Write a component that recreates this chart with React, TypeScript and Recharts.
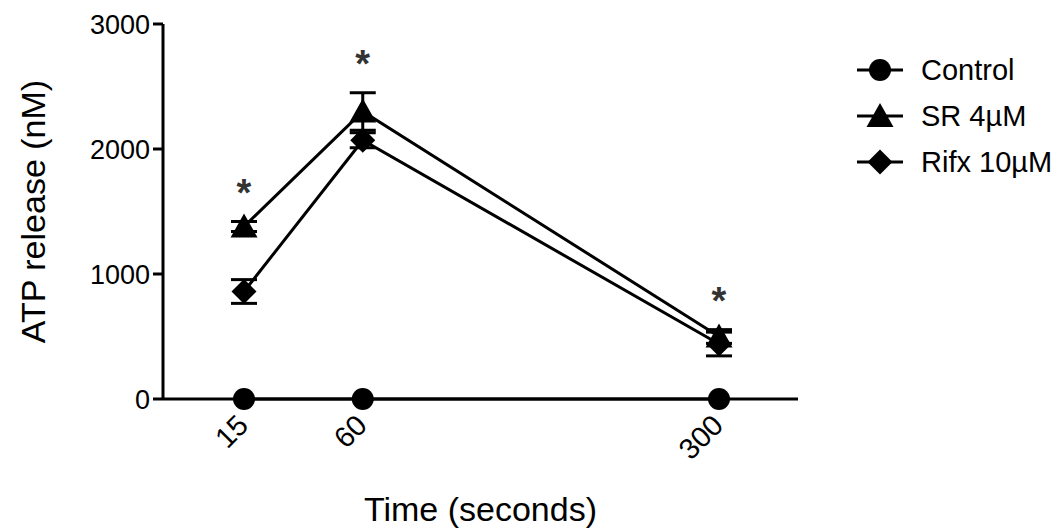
import React from 'react'
import { LineChart, Line, XAxis, YAxis, ErrorBar, LabelList, Label } from 'recharts'

const FONT = '"Liberation Sans", Arial, Helvetica, sans-serif'

const times = [15, 60, 300]
// position of each time point along the original x axis (15 and 60 one step apart, 300 three steps on)
const slots = [1, 2, 5]
const control = [0, 0, 0]
const sr = [1380, 2300, 500]
const srErr = [40, 150, 55]
const rifx = [860, 2070, 440]
const rifxErr = [95, 60, 95]
const significant = ['*', '*', '*']
const yTicks = [0, 1000, 2000, 3000]

const series = [
  { key: 'control', name: 'Control', shape: 'circle' },
  { key: 'sr', name: 'SR 4µM', shape: 'triangle' },
  { key: 'rifx', name: 'Rifx 10µM', shape: 'diamond' },
]

const data = times.map((t, i) => ({
  time: t,
  slot: slots[i],
  control: control[i],
  sr: sr[i],
  srErr: srErr[i],
  rifx: rifx[i],
  rifxErr: rifxErr[i],
  star: sr[i] + srErr[i],
  sig: significant[i],
}))

function Marker({ shape, cx, cy }: { shape: string; cx: number; cy: number }) {
  if (shape === 'circle') return <circle cx={cx} cy={cy} r={11} fill="#000" />
  if (shape === 'triangle')
    return <polygon points={`${cx},${cy - 13} ${cx + 13.5},${cy + 11} ${cx - 13.5},${cy + 11}`} fill="#000" />
  return <polygon points={`${cx},${cy - 12.5} ${cx + 12.5},${cy} ${cx},${cy + 12.5} ${cx - 12.5},${cy}`} fill="#000" />
}

const dotFor = (shape: string) => (p: any) =>
  <Marker key={`${shape}-${p.index}`} shape={shape} cx={p.cx} cy={p.cy} />

const XTick = (props: any) => {
  const { x, y, payload } = props
  const idx = slots.indexOf(payload.value)
  return (
    <text
      transform={`translate(${x + 6},${y + 28}) rotate(-45)`}
      textAnchor="end"
      fontSize={29}
      fill="#000"
      fontFamily={FONT}
    >
      {idx >= 0 ? times[idx] : ''}
    </text>
  )
}

const StarLabel = (props: any) => {
  const { x, y, value } = props
  return (
    <text x={x} y={y - 16} textAnchor="middle" fontSize={38} fontWeight={700} fill="#333" fontFamily={FONT}>
      {value}
    </text>
  )
}

export default function App() {
  return (
    <div style={{ position: 'absolute', left: 0, top: 0, width: 1064, height: 529, background: '#fff', fontFamily: FONT }}>
      <LineChart
        width={1064}
        height={529}
        data={data}
        margin={{ top: 24, right: 266, bottom: 0, left: 0 }}
        style={{ fontFamily: FONT }}
      >
        <XAxis
          type="number"
          dataKey="slot"
          domain={[1, 5]}
          ticks={slots}
          interval={0}
          padding={{ left: 81, right: 79 }}
          height={130}
          axisLine={{ stroke: '#000', strokeWidth: 3 }}
          tickLine={false}
          tickSize={0}
          tickMargin={0}
          tick={<XTick />}
        >
          <Label
            content={(p: any) => {
              const vb = p.viewBox
              return (
                <text x={vb.x + vb.width / 2} y={vb.y + 122} textAnchor="middle" fontSize={34} fill="#000" fontFamily={FONT}>
                  Time (seconds)
                </text>
              )
            }}
          />
        </XAxis>
        <YAxis
          type="number"
          domain={[0, 3000]}
          ticks={yTicks}
          interval={0}
          width={163}
          tickSize={10}
          tickMargin={3}
          axisLine={{ stroke: '#000', strokeWidth: 3 }}
          tickLine={{ stroke: '#000', strokeWidth: 3 }}
          tick={{ fill: '#000', fontSize: 27, fontFamily: FONT }}
        >
          <Label
            content={(p: any) => {
              const vb = p.viewBox
              const cx = vb.x + 33
              const cy = vb.y + vb.height / 2
              return (
                <text
                  transform={`translate(${cx},${cy}) rotate(-90)`}
                  textAnchor="middle"
                  dominantBaseline="central"
                  fontSize={34}
                  fill="#000"
                  fontFamily={FONT}
                >
                  ATP release (nM)
                </text>
              )
            }}
          />
        </YAxis>

        <Line dataKey="control" stroke="#000" strokeWidth={3} dot={dotFor('circle')} activeDot={false} isAnimationActive={false} />
        <Line dataKey="sr" stroke="#000" strokeWidth={3} dot={dotFor('triangle')} activeDot={false} isAnimationActive={false}>
          <ErrorBar dataKey="srErr" direction="y" width={13} strokeWidth={3} stroke="#000" isAnimationActive={false} />
        </Line>
        <Line dataKey="rifx" stroke="#000" strokeWidth={3} dot={dotFor('diamond')} activeDot={false} isAnimationActive={false}>
          <ErrorBar dataKey="rifxErr" direction="y" width={13} strokeWidth={3} stroke="#000" isAnimationActive={false} />
        </Line>
        <Line dataKey="star" stroke="none" dot={false} activeDot={false} legendType="none" isAnimationActive={false}>
          <LabelList dataKey="sig" content={<StarLabel />} />
        </Line>
      </LineChart>

      <div style={{ position: 'absolute', left: 855, top: 47 }}>
        {series.map((s) => (
          <div key={s.key} style={{ display: 'flex', alignItems: 'center', height: 46 }}>
            <svg width={50} height={30}>
              <line x1={2} y1={15} x2={48} y2={15} stroke="#000" strokeWidth={3} />
              <Marker shape={s.shape} cx={25} cy={15} />
            </svg>
            <span style={{ marginLeft: 16, fontSize: 29, color: '#000' }}>{s.name}</span>
          </div>
        ))}
      </div>
    </div>
  )
}
